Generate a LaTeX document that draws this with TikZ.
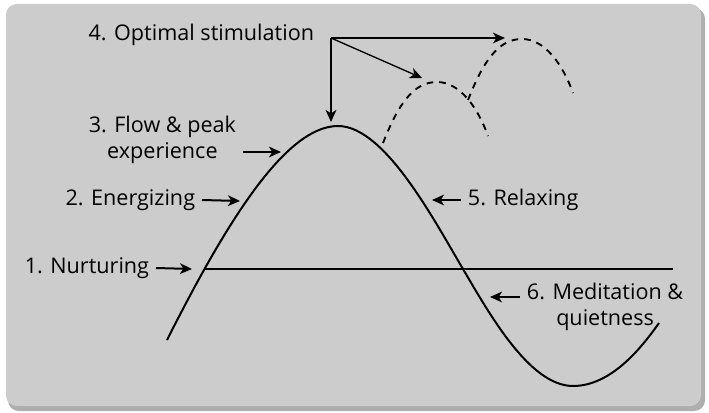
\documentclass[tikz,border=0pt]{standalone}
\usepackage{fontspec}
\setmainfont{Open Sans}
\usetikzlibrary{arrows.meta}

\definecolor{panel}{HTML}{CCCCCC}
\definecolor{panelshadow}{HTML}{AFAFAF}

\begin{document}
\begin{tikzpicture}[
  x=0.75pt, y=-0.75pt,
  >={Stealth[length=9pt, width=8pt, inset=2.5pt]},
  wave/.style={line width=1.5pt},
  hump/.style={line width=1.4pt, dash pattern=on 5pt off 4.5pt},
  ptr/.style={->, line width=1.5pt},
  lbl/.style={font=\fontsize{16.2}{19}\selectfont, inner sep=5pt, align=center}
]
\useasboundingbox (0,0) rectangle (709,413);
\fill[panelshadow, rounded corners=8pt] (8,8) rectangle (705,411);
\fill[panel, rounded corners=8pt] (6,4) rectangle (701,406);

% the wave and its base line
\coordinate (cross) at (205,269);
\coordinate (baseend) at (673,269);
\draw[wave] (167,340) .. controls (225,225) and (285,126) .. (338,126)
  .. controls (385,126) and (435,222) .. (463,269)
  .. controls (490,315) and (530,386) .. (573,386)
  .. controls (610,386) and (640,350) .. (659,323);
\draw[wave] (cross) -- (baseend);

% higher peaks
\foreach \dx/\dy in {0/0, 85/-43}
  \draw[hump, shift={(\dx,\dy)}] (383,143) .. controls (398,105) and (413,82) .. (437,82)
    .. controls (460,82) and (478,108) .. (488,136);

% labels
\node[lbl, anchor=east] (opt) at (321,35) {4. Optimal stimulation};
\node[lbl, anchor=east] (flow) at (243,140) {3. Flow \& peak\\experience};
\node[lbl, anchor=east] (ener) at (202,200) {2. Energizing};
\node[lbl, anchor=east] (nurt) at (156,268) {1. Nurturing};
\node[lbl, anchor=west] (relax) at (461,200) {5. Relaxing};
\node[lbl, anchor=west] (medit) at (520,307) {6. Meditation \&\\quietness};

% pointers
\coordinate (src) at (331,38);
\coordinate (topB) at (505,38);
\coordinate (topA) at (422,78);
\coordinate (topM) at (331,122);
\coordinate (flowpt) at (281,152);
\coordinate (enerpt) at (240,201);
\coordinate (nurtpt) at (192,269);
\coordinate (relaxpt) at (432,200);
\coordinate (meditpt) at (490,297);
\draw[ptr] (src) -- (topB);
\draw[->, line width=1pt] (src) -- (topA);
\draw[ptr] (src) -- (topM);
\draw[ptr] (flow.east |- flowpt) -- (flowpt);
\draw[ptr] (ener.east) -- (enerpt);
\draw[ptr] (nurt.east) -- (nurtpt);
\draw[ptr] (relax.west) -- (relaxpt);
\draw[ptr] (medit.west |- meditpt) -- (meditpt);
\end{tikzpicture}
\end{document}
